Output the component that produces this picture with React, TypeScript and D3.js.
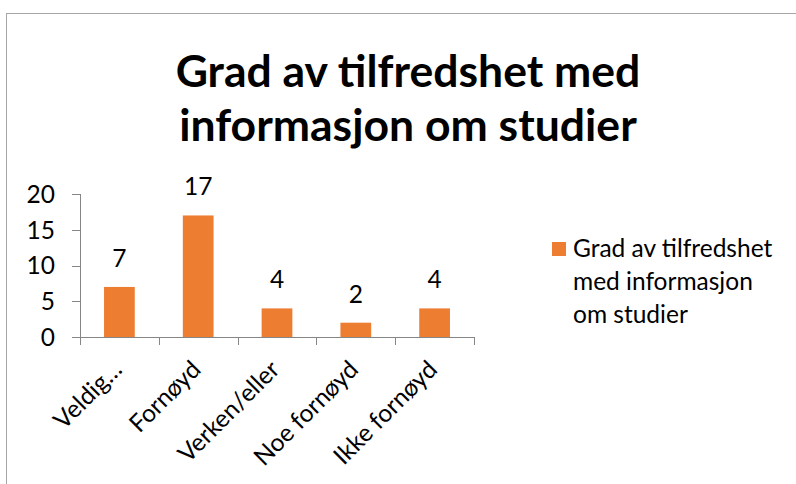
import React, { useEffect, useRef } from "react";
import * as d3 from "d3";

const categories = ["Veldig…", "Fornøyd", "Verken/eller", "Noe fornøyd", "Ikke fornøyd"];
const values = [7, 17, 4, 2, 4];
const yTicks = [0, 5, 10, 15, 20];
const titleLines = ["Grad av tilfredshet med", "informasjon om studier"];
const legendLines = ["Grad av tilfredshet", "med informasjon", "om studier"];

const width = 796;
const height = 484;
const margin = { top: 194, right: 322, bottom: 147, left: 80 };
const barColor = "#ED7D31";
const axisColor = "#868686";
const font = "Lato, 'Open Sans', sans-serif";
const labelSize = 24.5;

export default function App() {
  const svgRef = useRef<SVGSVGElement>(null);

  useEffect(() => {
    const svg = d3.select(svgRef.current);
    svg.selectAll("*").remove();

    // outer chart border
    svg
      .append("rect")
      .attr("x", 6.5)
      .attr("y", 13.5)
      .attr("width", 900)
      .attr("height", 600)
      .attr("fill", "white")
      .attr("stroke", "#a6a6a6");

    // title
    svg
      .append("g")
      .selectAll("text")
      .data(titleLines)
      .enter()
      .append("text")
      .attr("x", 408)
      .attr("y", (d, i) => 87 + i * 54)
      .attr("text-anchor", "middle")
      .attr("font-family", font)
      .attr("font-weight", "bold")
      .attr("font-size", 44.5)
      .attr("fill", "#000")
      .text((d) => d);

    const x = d3
      .scaleBand()
      .domain(categories)
      .range([margin.left, width - margin.right])
      .paddingInner(0.61)
      .paddingOuter(0.305);

    const y = d3
      .scaleLinear()
      .domain([0, 20])
      .range([height - margin.bottom, margin.top]);

    const step = x.step();
    const x0 = margin.left;
    const y0 = y(0);

    // y axis
    svg
      .append("line")
      .attr("x1", x0 + 0.5)
      .attr("x2", x0 + 0.5)
      .attr("y1", y(20))
      .attr("y2", y0)
      .attr("stroke", axisColor);

    svg
      .append("g")
      .selectAll("line")
      .data(yTicks)
      .enter()
      .append("line")
      .attr("x1", x0 - 8)
      .attr("x2", x0)
      .attr("y1", (d) => Math.round(y(d)) + 0.5)
      .attr("y2", (d) => Math.round(y(d)) + 0.5)
      .attr("stroke", axisColor);

    svg
      .append("g")
      .selectAll("text")
      .data(yTicks)
      .enter()
      .append("text")
      .attr("x", x0 - 25)
      .attr("y", (d) => y(d))
      .attr("dy", "0.36em")
      .attr("text-anchor", "end")
      .attr("font-family", font)
      .attr("font-size", labelSize)
      .attr("fill", "#000")
      .text((d) => d);

    // x axis
    svg
      .append("line")
      .attr("x1", x0)
      .attr("x2", width - margin.right)
      .attr("y1", Math.round(y0) + 0.5)
      .attr("y2", Math.round(y0) + 0.5)
      .attr("stroke", axisColor);

    svg
      .append("g")
      .selectAll("line")
      .data(d3.range(categories.length + 1))
      .enter()
      .append("line")
      .attr("x1", (i) => Math.round(x0 + i * step) + 0.5)
      .attr("x2", (i) => Math.round(x0 + i * step) + 0.5)
      .attr("y1", y0)
      .attr("y2", y0 + 8)
      .attr("stroke", axisColor);

    // bars
    svg
      .append("g")
      .selectAll("rect")
      .data(values)
      .enter()
      .append("rect")
      .attr("x", (d, i) => x(categories[i])!)
      .attr("y", (d) => y(d))
      .attr("width", x.bandwidth())
      .attr("height", (d) => y0 - y(d))
      .attr("fill", barColor);

    // value labels
    svg
      .append("g")
      .selectAll("text")
      .data(values)
      .enter()
      .append("text")
      .attr("x", (d, i) => x(categories[i])! + x.bandwidth() / 2)
      .attr("y", (d) => y(d) - 20)
      .attr("text-anchor", "middle")
      .attr("font-family", font)
      .attr("font-size", labelSize)
      .attr("fill", "#000")
      .text((d) => d);

    // category labels, rotated
    svg
      .append("g")
      .selectAll("text")
      .data(categories)
      .enter()
      .append("text")
      .attr("transform", (d) => {
        const cx = x(d)! + x.bandwidth() / 2 + 4;
        return `translate(${cx},${y0 + 34}) rotate(-45)`;
      })
      .attr("text-anchor", "end")
      .attr("font-family", font)
      .attr("font-size", labelSize)
      .attr("fill", "#000")
      .text((d) => d);

    // legend
    const legend = svg.append("g").attr("transform", "translate(552,242)");
    legend
      .append("rect")
      .attr("width", 14)
      .attr("height", 14)
      .attr("fill", barColor);
    legend
      .append("g")
      .selectAll("text")
      .data(legendLines)
      .enter()
      .append("text")
      .attr("x", 21)
      .attr("y", (d, i) => 15 + i * 33)
      .attr("font-family", font)
      .attr("font-size", labelSize)
      .attr("fill", "#000")
      .text((d) => d);
  }, []);

  return (
    <svg
      ref={svgRef}
      width={width}
      height={height}
      style={{ position: "absolute", left: 0, top: 0, display: "block" }}
    />
  );
}
